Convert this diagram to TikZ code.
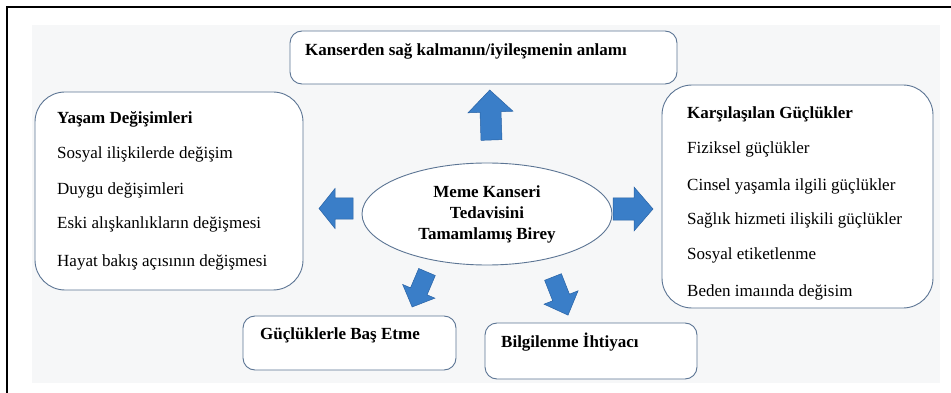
\documentclass[tikz,border=0pt]{standalone}
\usepackage{fontspec}
\setmainfont{Liberation Serif}
\usetikzlibrary{shapes.geometric}
\definecolor{bgcol}{RGB}{246,247,248}
\definecolor{boxline}{RGB}{92,117,148}
\definecolor{arrowfill}{RGB}{58,126,200}
\definecolor{arrowline}{RGB}{40,98,165}
\newcommand{\blockarrow}[8]{% name-less: x, y (tail centre), angle, length, shaft half, head half, head length, dummy
  \filldraw[arrowstyle, shift={(#1,#2)}, rotate=#3]
    (0pt,-#5pt) -- (#4pt-#7pt,-#5pt) -- (#4pt-#7pt,-#6pt) -- (#4pt,0pt)
    -- (#4pt-#7pt,#6pt) -- (#4pt-#7pt,#5pt) -- (0pt,#5pt) -- cycle;}
\begin{document}
\begin{tikzpicture}[x=1pt,y=-1pt,
  box/.style={draw=boxline, line width=0.9pt, rounded corners=#1, fill=white, inner sep=0pt},
  box/.default=12pt,
  txt/.style={anchor=base west, inner sep=0pt, font=\fontsize{17}{20}\selectfont},
  ttl/.style={txt, font=\fontsize{17}{20}\selectfont\bfseries},
  arrowstyle/.style={fill=arrowfill, draw=arrowline, line width=0.5pt, line join=miter}]
\useasboundingbox (0,0) rectangle (951,393);
\fill[bgcol] (32,25) rectangle (940,383);
\draw[black, line width=1.2pt] (7,393) -- (7,7) -- (951,7);

% boxes
\node[box=12pt, minimum width=387pt, minimum height=53pt] (top) at (483.5,57.5) {};
\node[box=30pt, minimum width=268pt, minimum height=198pt] (left) at (169,191) {};
\node[box=30pt, minimum width=271pt, minimum height=223pt] (right) at (797.5,196.5) {};
\node[box=12pt, minimum width=213pt, minimum height=54pt] (bl) at (349.5,343) {};
\node[box=12pt, minimum width=212pt, minimum height=56pt] (br) at (591,351) {};
\node[draw=boxline, line width=0.9pt, ellipse, fill=white, minimum width=250pt, minimum height=102pt, inner sep=0pt,
      align=center, font=\fontsize{17}{21}\selectfont\bfseries] (c) at (487,214)
      {Meme Kanseri\\Tedavisini\\Tamamlamış Birey};

% texts
\node[ttl] (toptxt) at (305,56) {Kanserden sağ kalmanın/iyileşmenin anlamı};
\node[ttl] (l0) at (57,124) {Yaşam Değişimleri};
\node[txt] (l1) at (57,159) {Sosyal ilişkilerde değişim};
\node[txt] (l2) at (57,194) {Duygu değişimleri};
\node[txt] (l3) at (57,229) {Eski alışkanlıkların değişmesi};
\node[txt] (l4) at (57,266) {Hayat bakış açısının değişmesi};
\node[ttl] (r0) at (687,119) {Karşılaşılan Güçlükler};
\node[txt] (r1) at (687,154) {Fiziksel güçlükler};
\node[txt] (r2) at (687,191) {Cinsel yaşamla ilgili güçlükler};
\node[txt] (r3) at (687,224) {Sağlık hizmeti ilişkili güçlükler};
\node[txt] (r4) at (687,259) {Sosyal etiketlenme};
\node[txt] (r5) at (687,296) {Beden imaıında değisim};
\node[ttl] (bltxt) at (260,339) {Güçlüklerle Baş Etme};
\node[ttl] (brtxt) at (501,347) {Bilgilenme İhtiyacı};

% block arrows
\blockarrow{491.5}{140}{92}{50}{10.5}{22.5}{22}{}
\blockarrow{353}{208.5}{180}{34}{10.5}{20}{16}{}
\blockarrow{613}{209}{0}{40}{11}{22}{19}{}
\blockarrow{427}{272}{247}{38}{9}{17.5}{17}{}
\blockarrow{553}{277}{-68.5}{41}{9}{18.3}{19}{}
\end{tikzpicture}
\end{document}
